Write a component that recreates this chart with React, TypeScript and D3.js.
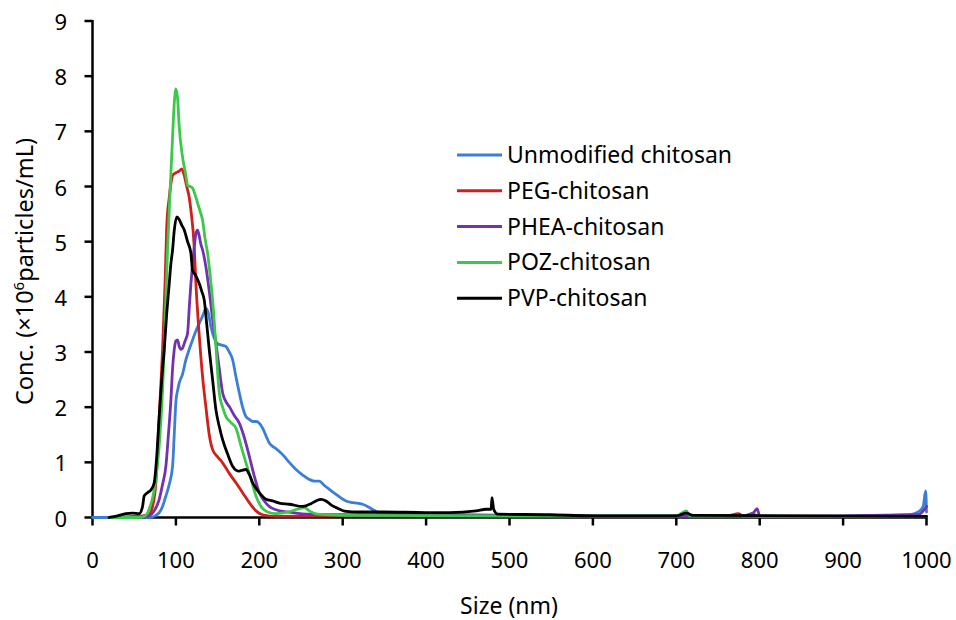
import React from "react";
import * as d3 from "d3";

type Pt = [number, number];

const xTicks = [0, 100, 200, 300, 400, 500, 600, 700, 800, 900, 1000];
const yTicks = [0, 1, 2, 3, 4, 5, 6, 7, 8, 9];
const seriesNames = ["Unmodified chitosan", "PEG-chitosan", "PHEA-chitosan", "POZ-chitosan", "PVP-chitosan"];
const seriesColors = ["#3a7fd5", "#d0201b", "#7232b0", "#3cc84a", "#000000"];

const unmodified: Pt[] = [
  [0, 0], [60, 0], [68, 0], [76, 0.04], [80, 0.09], [84, 0.2], [88, 0.39], [92, 0.6], [96, 0.93], [98, 1.5],
  [100, 2.1], [102, 2.3], [104, 2.44], [108, 2.6], [112, 2.86], [116, 3.05], [120, 3.22], [124, 3.38], [128, 3.52],
  [132, 3.65], [136, 3.79], [139, 3.7], [142, 3.46], [146, 3.25], [150, 3.15], [156, 3.12], [160, 3.1], [164, 3.0],
  [168, 2.86], [172, 2.55], [176, 2.26], [180, 2.0], [184, 1.83], [188, 1.78], [192, 1.74], [196, 1.74], [200, 1.71],
  [204, 1.62], [208, 1.48], [212, 1.35], [216, 1.29], [220, 1.25], [228, 1.14], [236, 1.0], [244, 0.87], [252, 0.77],
  [260, 0.69], [266, 0.66], [272, 0.66], [278, 0.58], [284, 0.51], [292, 0.42], [304, 0.3], [312, 0.27], [324, 0.24],
  [332, 0.18], [340, 0.11], [350, 0.06], [400, 0.05], [500, 0.04], [600, 0.03], [700, 0.03], [780, 0.03], [792, 0.07],
  [798, 0.02], [900, 0.02], [980, 0.05], [990, 0.1], [996, 0.2], [999, 0.48], [1000, 0.1],
];

const peg: Pt[] = [
  [20, 0], [50, 0.02], [60, 0.03], [68, 0.06], [72, 0.2], [76, 0.63], [80, 1.83], [84, 3.04], [87, 4.24], [89, 5.27],
  [92, 5.8], [94, 6.05], [96, 6.2], [100, 6.25], [104, 6.28], [107, 6.32], [110, 6.2], [113, 6.0], [116, 5.8],
  [118, 5.57], [122, 4.9], [124, 4.24], [128, 3.3], [132, 2.55], [136, 2.0], [140, 1.5], [144, 1.23], [150, 1.1],
  [156, 0.99], [164, 0.8], [172, 0.63], [180, 0.45], [188, 0.27], [196, 0.12], [204, 0.05], [220, 0.02], [300, 0.03],
  [400, 0.03], [500, 0.02], [700, 0.02], [760, 0.03], [775, 0.07], [780, 0.02], [1000, 0.02],
];

const phea: Pt[] = [
  [20, 0], [60, 0], [68, 0.03], [74, 0.12], [80, 0.33], [84, 0.6], [88, 0.93], [91, 1.5], [94, 2.13], [96, 2.7],
  [98, 3.04], [100, 3.2], [102, 3.22], [104, 3.1], [106, 3.05], [108, 3.07], [111, 3.2], [114, 3.34], [116, 3.8],
  [118, 4.24], [120, 4.6], [122, 4.9], [124, 5.15], [126, 5.21], [128, 5.1], [130, 4.95], [132, 4.85], [136, 4.54],
  [140, 4.1], [144, 3.6], [148, 3.16], [152, 2.7], [156, 2.26], [160, 2.1], [164, 2.01], [170, 1.85], [176, 1.71],
  [182, 1.45], [188, 1.11], [194, 0.75], [200, 0.45], [206, 0.3], [212, 0.2], [220, 0.14], [240, 0.09], [260, 0.06],
  [300, 0.05], [400, 0.05], [600, 0.03], [780, 0.03], [792, 0.08], [797, 0.16], [800, 0.02], [990, 0.05], [1000, 0.2],
];

const poz: Pt[] = [
  [20, 0], [55, 0], [62, 0.02], [68, 0.15], [74, 0.5], [80, 1.3], [84, 2.3], [87, 3.5], [90, 4.85], [93, 5.9],
  [96, 6.9], [98, 7.5], [100, 7.77], [102, 7.6], [104, 7.08], [108, 6.53], [112, 6.2], [114, 6.02], [117, 6.0],
  [120, 5.97], [123, 5.85], [126, 5.7], [129, 5.55], [132, 5.39], [135, 5.05], [138, 4.79], [141, 4.4], [144, 3.94],
  [148, 3.1], [152, 2.26], [156, 2.0], [160, 1.83], [166, 1.72], [172, 1.62], [178, 1.3], [184, 0.99], [190, 0.7],
  [196, 0.39], [202, 0.2], [210, 0.1], [220, 0.07], [235, 0.1], [248, 0.16], [254, 0.18], [260, 0.12], [270, 0.06],
  [300, 0.04], [500, 0.03], [700, 0.03], [712, 0.12], [716, 0.03], [1000, 0.02],
];

const pvp: Pt[] = [
  [20, 0], [30, 0.03], [40, 0.07], [48, 0.08], [56, 0.07], [60, 0.2], [62, 0.39], [66, 0.45], [70, 0.5], [74, 0.63],
  [77, 1.1], [80, 1.83], [83, 2.5], [86, 3.04], [89, 3.7], [92, 4.24], [94, 4.6], [96, 4.85], [98, 5.2], [101, 5.45],
  [104, 5.4], [107, 5.3], [110, 5.21], [114, 5.0], [118, 4.79], [120, 4.48], [124, 4.38], [128, 4.24], [131, 4.1],
  [134, 3.94], [137, 3.5], [140, 3.04], [144, 2.5], [148, 1.95], [152, 1.65], [156, 1.41], [162, 1.15], [168, 0.93],
  [172, 0.86], [176, 0.84], [180, 0.86], [184, 0.87], [188, 0.78], [192, 0.63], [200, 0.45], [208, 0.33], [216, 0.3],
  [224, 0.26], [236, 0.24], [252, 0.2], [262, 0.25], [268, 0.3], [274, 0.33], [280, 0.3], [286, 0.23], [292, 0.18],
  [304, 0.11], [320, 0.1], [348, 0.1], [400, 0.09], [428, 0.09], [460, 0.12], [472, 0.15], [478, 0.15], [479, 0.36],
  [481, 0.15], [486, 0.06], [548, 0.05], [600, 0.03], [700, 0.03], [712, 0.08], [720, 0.04], [1000, 0.02],
];

const seriesData: Pt[][] = [unmodified, peg, phea, poz, pvp];

export default function App() {
  const x = d3.scaleLinear().domain([0, 1000]).range([92.5, 926.5]);
  const y = d3.scaleLinear().domain([0, 9]).range([517.5, 21]);
  const line = d3
    .line<Pt>()
    .x((d) => x(d[0]))
    .y((d) => y(d[1]))
    .curve(d3.curveMonotoneX);

  const font = "'Noto Sans', 'Open Sans', sans-serif";
  const legendX1 = 457;
  const legendX2 = 502;
  const legendY0 = 155;
  const legendStep = 35.8;

  return (
    <svg
      width={956}
      height={620}
      style={{ position: "absolute", left: 0, top: 0, background: "#fff" }}
      fontFamily={font}
    >
      <rect x={0} y={0} width={956} height={620} fill="#fff" />
      {/* axes */}
      <line x1={x(0)} x2={x(0)} y1={y(9) - 1} y2={y(0) + 1} stroke="#000" strokeWidth={2.5} />
      <line x1={x(0) - 1} x2={x(1000) + 1} y1={y(0)} y2={y(0)} stroke="#000" strokeWidth={2.5} />
      {yTicks.map((t) => (
        <g key={"y" + t}>
          <line x1={x(0) - 8} x2={x(0)} y1={y(t)} y2={y(t)} stroke="#000" strokeWidth={2.5} />
          <text x={67} y={y(t)} textAnchor="end" dominantBaseline="central" fontSize={22} fill="#000">
            {t}
          </text>
        </g>
      ))}
      {xTicks.map((t) => (
        <g key={"x" + t}>
          <line x1={x(t)} x2={x(t)} y1={y(0)} y2={y(0) + 8} stroke="#000" strokeWidth={2.5} />
          <text x={x(t)} y={568} textAnchor="middle" fontSize={22} fill="#000">
            {t}
          </text>
        </g>
      ))}
      <text x={509} y={614} textAnchor="middle" fontSize={23} fill="#000">
        Size (nm)
      </text>
      <text transform="translate(33,271.5) rotate(-90)" textAnchor="middle" fontSize={23.5} fill="#000">
        Conc. (×10
        <tspan fontSize={15} dy={-9}>
          6
        </tspan>
        <tspan dy={9}>particles/mL)</tspan>
      </text>
      {/* series */}
      {seriesData.map((d, i) => (
        <path
          key={seriesNames[i]}
          d={line(d) || ""}
          fill="none"
          stroke={seriesColors[i]}
          strokeWidth={2.8}
          strokeLinejoin="round"
          strokeLinecap="round"
        />
      ))}
      {/* legend */}
      {seriesNames.map((name, i) => (
        <g key={"leg" + name}>
          <line
            x1={legendX1}
            x2={legendX2}
            y1={legendY0 + i * legendStep}
            y2={legendY0 + i * legendStep}
            stroke={seriesColors[i]}
            strokeWidth={3}
          />
          <text x={507} y={legendY0 + i * legendStep + 8} fontSize={23} fill="#000">
            {name}
          </text>
        </g>
      ))}
    </svg>
  );
}
